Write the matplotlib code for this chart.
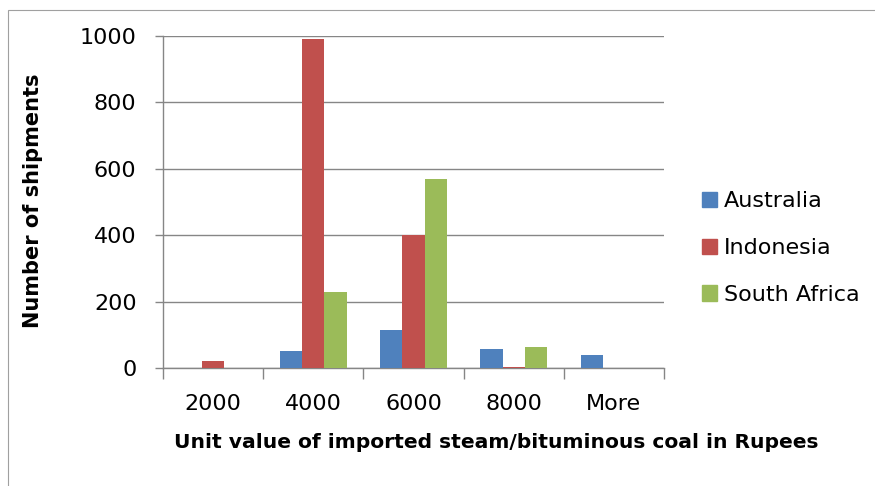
import matplotlib.pyplot as plt
import matplotlib.patches as mpatches
import numpy as np

# data
categories = ['2000', '4000', '6000', '8000', 'More']
australia = [0, 51, 114, 56, 40]
indonesia = [22, 990, 400, 4, 0]
south_africa = [0, 230, 570, 62, 0]

series_names = ['Australia', 'Indonesia', 'South Africa']
series_colors = ['#4F81BD', '#C0504D', '#9BBB59']

plt.rcParams['font.family'] = ['DejaVu Sans']

fig = plt.figure(figsize=(8.75, 4.86), dpi=100)
ax = fig.add_axes([163/875, 1 - 368/486, (664 - 163)/875, (368 - 36)/486])

# thin gray frame around the chart area
frame = mpatches.Rectangle((8/875, -0.1), 1.2, 1 - 10/486 + 0.1, transform=fig.transFigure,
                           fill=False, edgecolor='#A0A0A0', linewidth=0.8)
fig.patches.append(frame)

x = np.arange(len(categories))
width = 0.222
for i, (vals, name, col) in enumerate(zip([australia, indonesia, south_africa], series_names, series_colors)):
    ax.bar(x + (i - 1) * width, vals, width, color=col, label=name, zorder=3)

ax.set_xlim(-0.5, len(categories) - 0.5)
ax.set_ylim(0, 1000)
ax.set_yticks([0, 200, 400, 600, 800, 1000])
ax.set_xticks(x)
ax.set_xticklabels(categories)
ax.set_xticks(np.arange(-0.5, len(categories)), minor=True)
ax.tick_params(axis='x', which='major', length=0, pad=19, labelsize=16)
ax.tick_params(axis='x', which='minor', length=8, width=1, color='#868686', direction='out')
ax.tick_params(axis='y', length=6, width=1, color='#868686', direction='out', labelsize=16, pad=13)

ax.grid(True, axis='y', color='#868686', linewidth=1, zorder=0)
for s in ['top', 'right']:
    ax.spines[s].set_visible(False)
for s in ['left', 'bottom']:
    ax.spines[s].set_color('#868686')
    ax.spines[s].set_linewidth(1)

fig.text(33/875, 1 - 201/486, 'Number of shipments', rotation=90, ha='center', va='center',
         fontsize=15, fontweight='bold')
fig.text(496/875, 1 - 442/486, 'Unit value of imported steam/bituminous coal in Rupees',
         ha='center', va='center', fontsize=14.6, fontweight='bold')

handles = [mpatches.Patch(color=c, label=n) for c, n in zip(series_colors, series_names)]
fig.legend(handles=handles, loc='center left', bbox_to_anchor=(702/875, 1 - 248/486),
           frameon=False, fontsize=16, handlelength=0.68, handleheight=0.68,
           handletextpad=0.32, labelspacing=1.21, borderaxespad=0, borderpad=0)

plt.savefig('out.png', dpi=100)
